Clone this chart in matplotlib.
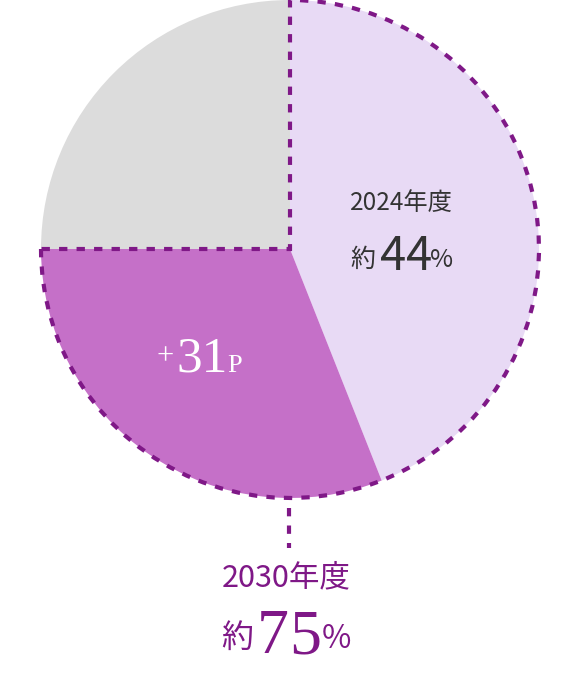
import matplotlib
matplotlib.use('Agg')
import matplotlib.pyplot as plt

# data
labels = ['2024年度', '+31P', 'その他']
shares = [44, 31, 25]
colors = ['#e8daf5', '#c570c8', '#dcdcdc']
target = [75, 25]   # 2030年度 target outline

W, H = 580, 676
cx, cy, r = 290, H - 249, 249
dash_col = '#7f1887'
cjk = ['Noto Sans CJK JP', 'DejaVu Sans']
serif = ['Liberation Serif', 'DejaVu Serif']

fig = plt.figure(figsize=(W / 100, H / 100), dpi=100)
ax = fig.add_axes([0, 0, 1, 1])

ax.pie(shares, colors=colors, startangle=90, counterclock=False,
       center=(cx, cy), radius=r, frame=True,
       wedgeprops=dict(linewidth=0))

# dashed outline around the 75% target
w2, _ = ax.pie(target, colors=['none', 'none'], startangle=90, counterclock=False,
               center=(cx, cy), radius=r, frame=True,
               wedgeprops=dict(linewidth=3.0, edgecolor=dash_col,
                               linestyle=(0, (2.0, 2.2)), fill=False))
w2[1].set_visible(False)

# connector down to the label
ax.plot([cx - 1, cx - 1], [H - 508, H - 548], color=dash_col, lw=3.0,
        linestyle=(0, (2.0, 2.2)), solid_capstyle='butt')

dark = '#333333'
# 2024 label
ax.text(401, H - 203, '2024年度', ha='center', va='center', fontsize=17.5,
        color=dark, family=cjk)
ax.text(363, H - 260, '約', ha='center', va='center', fontsize=18,
        color=dark, family=cjk)
ax.text(393.5, H - 270, '4', ha='center', va='baseline', fontsize=34,
        color=dark, family=cjk)
ax.text(419, H - 270, '4', ha='center', va='baseline', fontsize=34,
        color=dark, family=cjk)
ax.text(442, H - 260, '%', ha='center', va='center', fontsize=18,
        color=dark, family=cjk)

# +31P
ax.text(165, H - 364, '+', ha='center', va='baseline', fontsize=22,
        color='white', family=serif)
ax.text(202, H - 372, '31', ha='center', va='baseline', fontsize=37,
        color='white', family=serif)
ax.text(227, H - 372, 'P', ha='left', va='baseline', fontsize=19,
        color='white', family=serif)

# 2030 label
ax.text(286, H - 578, '2030年度', ha='center', va='center', fontsize=22,
        color=dash_col, family=cjk)
ax.text(237.5, H - 638, '約', ha='center', va='center', fontsize=23,
        color=dash_col, family=cjk)
ax.text(272.5, H - 653, '7', ha='center', va='baseline', fontsize=46,
        color=dash_col, family=serif)
ax.text(305, H - 653, '5', ha='center', va='baseline', fontsize=46,
        color=dash_col, family=serif)
ax.text(336, H - 639, '%', ha='center', va='center', fontsize=23,
        color=dash_col, family=cjk)

ax.set_xlim(0, W)
ax.set_ylim(0, H)
ax.set_aspect('equal')
ax.axis('off')

fig.savefig('out.png', dpi=100, facecolor='white')
